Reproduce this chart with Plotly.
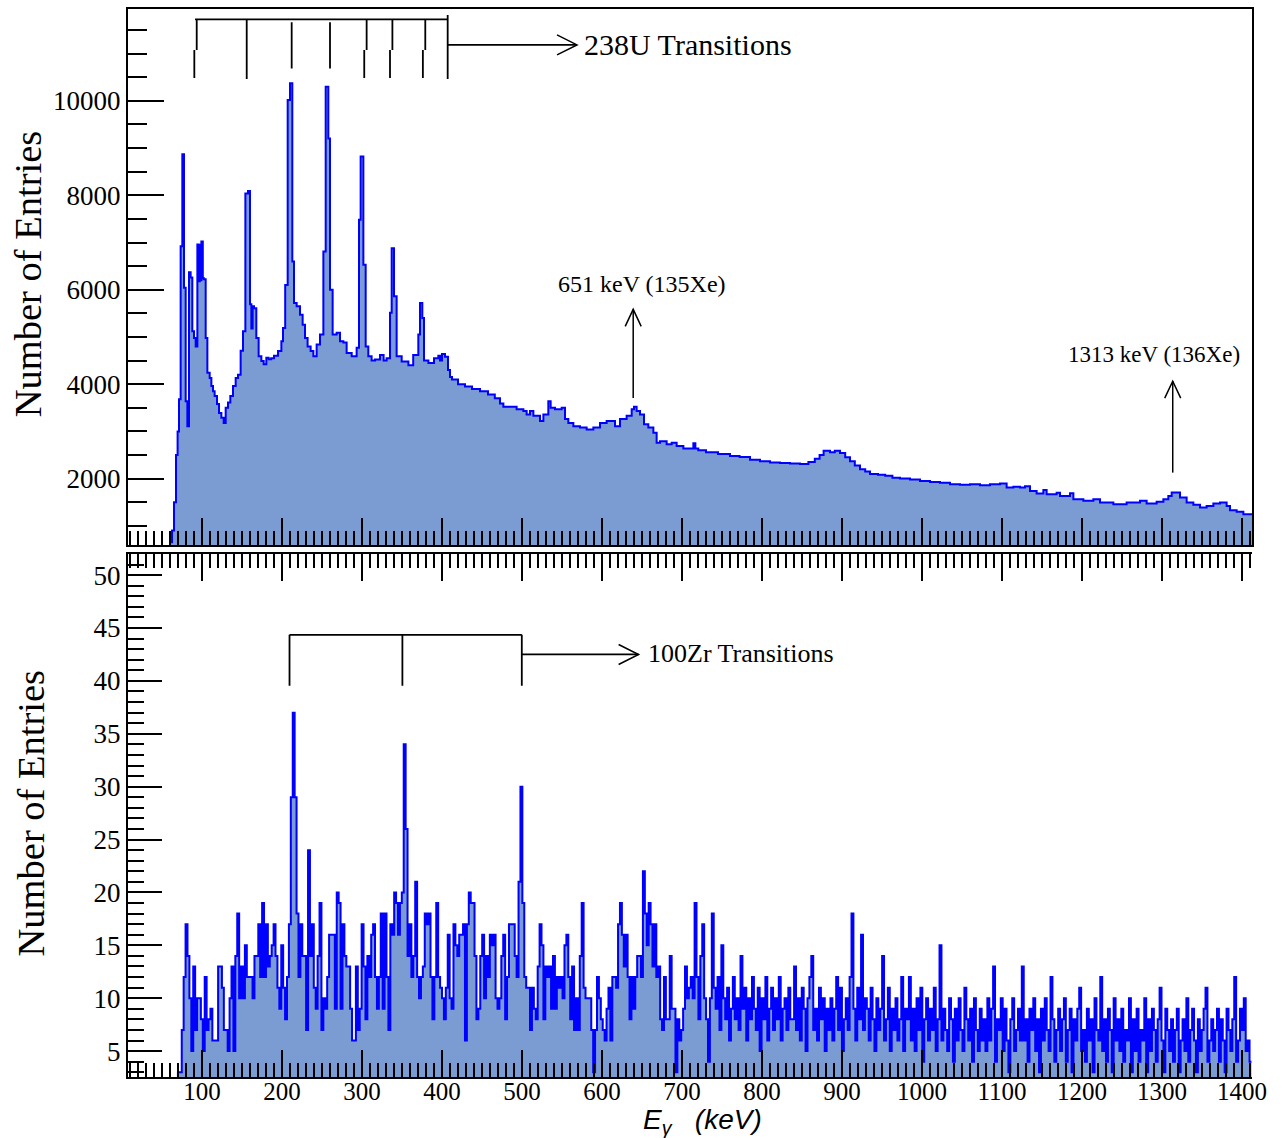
import plotly.graph_objects as go

# ---------------- top panel: gamma spectrum gated on 238U (variable-width bins) ----------------
top_edges_kev = [
    60.0, 62.5, 65.0, 67.5, 69.5, 71.25, 73.3, 75.4, 77.5, 79.6, 81.7, 83.75, 85.8, 87.9, 90.0, 92.1,
    94.2, 95.8, 97.1, 98.3, 99.2, 101.0, 102.1, 104.6, 106.7, 109.6, 111.7, 113.75, 115.8, 118.75,
    121.25, 124.2, 127.1, 129.6, 132.5, 135.4, 138.75, 142.1, 145.0, 148.3, 151.25, 154.2, 157.5,
    160.0, 161.7, 163.3, 165.0, 167.9, 170.8, 174.2, 177.1, 180.4, 183.3, 186.5, 190.0, 195.0, 199.2,
    201.25, 204.0, 207.1, 210.0, 212.9, 215.0, 218.3, 222.5, 225.8, 228.75, 232.0, 235.8, 239.2,
    243.3, 247.5, 251.7, 254.6, 257.9, 260.0, 263.3, 268.3, 272.5, 276.7, 280.8, 287.1, 293.3,
    296.25, 298.3, 301.7, 304.6, 307.9, 312.0, 316.25, 322.5, 327.0, 330.8, 335.0, 337.1, 340.0,
    343.3, 349.6, 358.0, 364.0, 370.4, 372.5, 375.4, 377.5, 383.0, 390.0, 395.4, 397.5, 400.0,
    403.75, 407.5, 410.0, 412.5, 420.0, 428.75, 437.5, 447.5, 457.5, 466.0, 472.5, 476.7, 493.3,
    501.7, 505.8, 510.0, 514.2, 522.5, 526.7, 532.9, 535.8, 541.25, 549.6, 553.75, 557.9, 564.2,
    572.5, 580.8, 589.2, 597.5, 605.8, 616.25, 622.5, 630.8, 637.1, 640.0, 643.3, 647.5, 652.5,
    657.9, 664.2, 668.3, 672.5, 680.8, 687.1, 693.3, 701.7, 714.2, 716.7, 720.4, 730.0, 745.0,
    760.0, 772.0, 785.0, 797.5, 810.0, 822.5, 835.0, 847.5, 858.0, 866.0, 872.0, 877.0, 885.0,
    891.0, 897.5, 904.0, 910.0, 916.0, 922.5, 929.0, 935.0, 945.0, 954.0, 963.0, 972.5, 985.0,
    997.5, 1010.0, 1022.5, 1035.0, 1047.5, 1060.0, 1072.5, 1085.0, 1097.5, 1105.8, 1114.2, 1122.5,
    1128.75, 1135.0, 1143.3, 1151.7, 1155.8, 1168.3, 1172.5, 1185.0, 1189.2, 1201.7, 1214.2,
    1222.5, 1239.2, 1255.8, 1272.5, 1280.8, 1293.3, 1301.7, 1307.9, 1312.1, 1318.3, 1322.5,
    1330.8, 1339.2, 1347.5, 1355.8, 1364.2, 1372.5, 1380.8, 1385.0, 1393.3, 1401.7,
]
top_counts = [
    650, 900, 1500, 2500, 3000, 3680, 6920, 8870, 6040, 3640, 3110, 6370, 6260, 5120, 4980, 4800,
    6960, 6180, 6950, 6200, 7020, 6250, 6220, 4980, 4240, 4130, 3960, 3850, 3750, 3580,
    3390, 3290, 3180, 3500, 3610, 3750, 3960, 4130, 4200, 4710, 5120, 8040, 8090,
    5690, 5180, 5650, 5610, 4980, 4590, 4490, 4420, 4560, 4530, 4550, 4600, 4700, 4910,
    5190, 6100, 10020, 10370, 6600, 5720, 5650, 5470, 5260, 4980, 4800, 4700, 4590,
    4840, 5050, 6810, 10300, 9200, 6000, 5050, 5090, 4910, 4880, 4660, 4590, 4770,
    7480, 8820, 6530, 4800, 4590, 4500, 4520, 4620, 4500, 4550, 5510, 6880, 5860,
    4590, 4480, 4400, 4620, 5050, 5720, 5400, 4500, 4450, 4550, 4600, 4500, 4640,
    4580, 4300, 4150, 4100, 4000, 3950, 3900, 3850, 3780, 3700, 3590, 3520, 3470,
    3430, 3360, 3430, 3330, 3220, 3360, 3640, 3500, 3470, 3500, 3260, 3180, 3110,
    3080, 3040, 3080, 3180, 3220, 3110, 3260, 3330, 3470, 3520, 3430, 3360, 3150,
    3080, 2970, 2760, 2790, 2730, 2760, 2690, 2640, 2750, 2640, 2600, 2560, 2520,
    2480, 2460, 2400, 2370, 2340, 2330, 2320, 2310, 2350, 2420, 2500, 2590, 2560,
    2590, 2540, 2450, 2370, 2280, 2200, 2150, 2100, 2080, 2060, 2020, 2000, 1980,
    1950, 1930, 1910, 1880, 1870, 1880, 1860, 1880, 1894, 1810, 1830, 1810,
    1840, 1740, 1683, 1760, 1670, 1700, 1634, 1690, 1564, 1529, 1564,
    1493, 1459, 1493, 1529, 1475, 1510, 1564, 1634, 1705, 1705, 1600,
    1493, 1444, 1388, 1420, 1475, 1493, 1420, 1332, 1300, 1247,
]
TOP_END_KEV = 1412.5

# ---------------- bottom panel: gamma spectrum gated on 100Zr (uniform bins) ----------------
ZR_FIRST_KEV = 69.9
ZR_BIN_KEV = 2.392
zr_counts = [
    3, 3, 7, 12, 17, 14, 10, 5, 13, 7, 10, 10, 8, 5, 12, 7, 8, 9, 6, 6,
    6, 13, 13, 11, 7, 7, 5, 10, 13, 5, 14, 18, 10, 13, 10, 15, 12, 12, 12, 10,
    14, 14, 17, 12, 19, 12, 17, 13, 14, 15, 17, 14, 11, 9, 15, 11, 8, 12, 17, 29,
    37, 29, 18, 12, 17, 14, 14, 7, 24, 14, 17, 11, 9, 14, 19, 7, 10, 9, 12, 16,
    16, 16, 9, 20, 19, 9, 17, 14, 13, 13, 9, 6, 6, 13, 7, 9, 17, 13, 8, 14,
    12, 16, 17, 12, 9, 12, 18, 9, 18, 12, 7, 17, 16, 20, 19, 16, 19, 20, 34, 26,
    14, 17, 12, 14, 21, 12, 10, 12, 13, 18, 17, 18, 12, 8, 12, 19, 12, 11, 10, 8,
    11, 16, 10, 9, 17, 15, 14, 16, 16, 17, 6, 17, 20, 19, 19, 14, 8, 9, 14, 16,
    10, 14, 12, 16, 15, 16, 10, 9, 10, 14, 16, 8, 12, 17, 17, 17, 14, 12, 21, 30,
    19, 12, 11, 11, 7, 11, 9, 8, 13, 17, 15, 8, 13, 12, 13, 9, 14, 9, 12, 11,
    12, 10, 15, 16, 12, 8, 13, 7, 10, 7, 14, 19, 11, 10, 10, 10, 7, 3, 7, 12,
    10, 8, 7, 6, 9, 11, 6, 12, 12, 11, 17, 19, 16, 13, 16, 12, 8, 12, 9, 12,
    14, 14, 12, 22, 18, 15, 19, 17, 13, 17, 12, 13, 8, 7, 12, 8, 8, 14, 9, 9,
    3, 8, 6, 7, 9, 13, 10, 11, 12, 10, 19, 12, 8, 14, 17, 10, 8, 4, 10, 18, 11,
    9, 12, 7, 15, 10, 8, 11, 6, 9, 12, 8, 10, 7, 14, 9, 11, 6, 10, 8, 12,
    9, 7, 11, 5, 10, 8, 12, 6, 9, 11, 7, 10, 8, 12, 6, 9, 10, 7, 11, 8,
    8, 13, 7, 10, 6, 11, 9, 5, 10, 12, 14, 7, 9, 6, 11, 8, 10, 5, 9, 7,
    10, 6, 9, 12, 7, 11, 5, 8, 10, 7, 12, 18, 9, 6, 11, 8, 16, 7, 10, 9,
    6, 11, 8, 5, 10, 7, 9, 14, 6, 8, 11, 5, 9, 7, 10, 6, 8, 12, 5, 9,
    8, 12, 6, 9, 5, 10, 7, 11, 4, 8, 10, 6, 9, 7, 11, 5, 8, 15, 6, 9,
    7, 5, 10, 8, 4, 9, 6, 10, 7, 5, 11, 8, 6, 9, 4, 10, 7, 5, 9, 6,
    8, 5, 10, 6, 9, 13, 4, 8, 7, 10, 5, 9, 6, 3, 8, 10, 5, 7, 9, 6,
    13, 6, 8, 4, 9, 7, 10, 5, 8, 3, 9, 6, 10, 7, 5, 12, 8, 4, 7, 9,
    5, 8, 10, 4, 7, 9, 3, 8, 6, 9, 11, 5, 7, 4, 9, 6, 8, 3, 10, 7,
    6, 12, 5, 8, 4, 9, 7, 3, 10, 6, 8, 5, 9, 4, 7, 6, 10, 3, 8, 5,
    9, 4, 7, 6, 10, 3, 8, 5, 9, 7, 4, 8, 11, 6, 3, 9, 7, 5, 8, 4,
    7, 9, 3, 6, 8, 5, 10, 4, 7, 9, 6, 3, 8, 5, 7, 9, 11, 4, 6, 8,
    5, 7, 9, 4, 8, 6, 3, 9, 7, 5, 8, 12, 4, 6, 9, 7, 10, 5, 6, 4,
]

# ---------------- annotation data ----------------
u238_lines_kev = [92.0, 155.9, 212.1, 260.0, 304.4, 336.6, 377.7, 407.1]
zr100_lines_kev = [209.4, 350.5, 499.75]

LINE_BLUE = "#0000ff"
FILL_BLUE = "#7b9bd3"
SERIF = "Liberation Serif"


def step_trace(edges, counts, end, xaxis, yaxis):
    xs = [edges[0]] + list(edges) + [end]
    ys = [0] + list(counts) + [counts[-1]]
    return go.Scatter(
        x=xs, y=ys, mode="lines", xaxis=xaxis, yaxis=yaxis,
        line=dict(color=LINE_BLUE, width=2, shape="hv"),
        fill="tozeroy", fillcolor=FILL_BLUE, hoverinfo="skip",
    )


zr_edges = [ZR_FIRST_KEV + i * ZR_BIN_KEV for i in range(len(zr_counts))]
zr_end = min(ZR_FIRST_KEV + len(zr_counts) * ZR_BIN_KEV, TOP_END_KEV)

fig = go.Figure()
fig.add_trace(step_trace(top_edges_kev, top_counts, TOP_END_KEV, "x2", "y2"))
fig.add_trace(step_trace(zr_edges, zr_counts, zr_end, "x", "y"))

x_tick_font = dict(family=SERIF, size=25, color="black")
y_tick_font = dict(family=SERIF, size=27, color="black")
common_x = dict(
    range=[7.5, 1412.5], tick0=0, dtick=100, ticks="inside", ticklen=27, tickwidth=2,
    tickcolor="black", showline=True, linecolor="black", linewidth=2,
    showgrid=False, zeroline=False,
    minor=dict(ticks="inside", dtick=10, tick0=0, ticklen=14, tickwidth=1.5, tickcolor="black"),
)
common_y = dict(
    ticks="inside", tickwidth=2, tickcolor="black", showline=True, linecolor="black",
    linewidth=2, showgrid=False, zeroline=False, tickformat="d", tickfont=y_tick_font,
)

fig.update_layout(
    width=1288, height=1138,
    margin=dict(l=128, r=36, t=7, b=61),
    paper_bgcolor="white", plot_bgcolor="white", showlegend=False,
    xaxis=dict(common_x, anchor="y", mirror="ticks", tickfont=x_tick_font, ticklabelstandoff=-9),
    yaxis=dict(common_y, domain=[0, 0.4895], anchor="x", range=[2.55, 51.98], tick0=0, dtick=5,
               mirror=False, ticklen=34,
               minor=dict(ticks="inside", dtick=1, ticklen=16, tickwidth=1.5, tickcolor="black")),
    xaxis2=dict(common_x, anchor="y2", mirror=True, showticklabels=False),
    yaxis2=dict(common_y, domain=[0.4979, 1], anchor="x2", range=[589, 11945], tick0=0,
                dtick=2000, mirror=True, ticklen=36,
                minor=dict(ticks="inside", dtick=500, ticklen=19, tickwidth=1.5, tickcolor="black")),
)

shapes = []
ann = []


def seg(x0, y0, x1, y1, xr, yr, w=1.8):
    shapes.append(dict(type="line", x0=x0, y0=y0, x1=x1, y1=y1, xref=xr, yref=yr,
                       line=dict(color="black", width=w)))


def head(x, y, xr, yr, path):
    shapes.append(dict(type="path", xref=xr, yref=yr, xsizemode="pixel", ysizemode="pixel",
                       xanchor=x, yanchor=y, path=path, line=dict(color="black", width=1.5)))


RIGHT = "M-20,10 L0,0 L-20,-10"
UP = "M-8,-17 L0,0 L8,-17"

# 238U band bracket (top panel)
u_top, u_mid, u_low = 11727, 11078, 10486
seg(u238_lines_kev[0] - 0.7, u_top, u238_lines_kev[-1], u_top, "x2", "y2")
for i, e in enumerate(u238_lines_kev):
    if i in (0, 4, 5, 6):
        seg(e + 1.4, u_top, e + 1.4, u_mid, "x2", "y2")
        seg(e - 1.6, u_mid, e - 1.6, u_low, "x2", "y2")
    elif i in (2, 3):
        seg(e, u_top - 60, e, 10683, "x2", "y2")
    else:
        seg(e, u_top + 90 if i == 7 else u_top, e, 10465, "x2", "y2")
seg(u238_lines_kev[-1], 11184, 568.75, 11184, "x2", "y2")
head(568.75, 11184, "x2", "y2", RIGHT)
ann.append(dict(x=575, y=11184, xref="x2", yref="y2", text="238U Transitions", showarrow=False,
                xanchor="left", yanchor="middle", font=dict(family=SERIF, size=30, color="black")))

# Xe lines (top panel)
seg(639, 3705, 639, 5585, "x2", "y2", 1.5)
head(639, 5585, "x2", "y2", UP)
ann.append(dict(x=650, y=6115, xref="x2", yref="y2", text="651 keV (135Xe)", showarrow=False,
                xanchor="center", yanchor="middle", font=dict(family=SERIF, size=24, color="black")))
seg(1313.4, 2127, 1313.4, 4064, "x2", "y2", 1.5)
head(1313.4, 4064, "x2", "y2", UP)
ann.append(dict(x=1289.6, y=4635, xref="x2", yref="y2", text="1313 keV (136Xe)", showarrow=False,
                xanchor="center", yanchor="middle", font=dict(family=SERIF, size=23, color="black")))

# 100Zr band bracket (bottom panel)
seg(zr100_lines_kev[0], 44.36, zr100_lines_kev[-1], 44.36, "x", "y")
for e in zr100_lines_kev:
    seg(e, 44.36, e, 39.55, "x", "y")
seg(zr100_lines_kev[-1], 42.5, 645.75, 42.5, "x", "y")
head(645.75, 42.5, "x", "y", RIGHT)
ann.append(dict(x=655, y=42.6, xref="x", yref="y", text="100Zr Transitions", showarrow=False,
                xanchor="left", yanchor="middle", font=dict(family=SERIF, size=26, color="black")))

# axis titles
for yc, xc in ((0.7525, -0.089), (0.2471, -0.086)):
    ann.append(dict(x=xc, y=yc, xref="paper", yref="paper", text="Number of Entries",
                    textangle=-90, showarrow=False, xanchor="center", yanchor="middle",
                    font=dict(family=SERIF, size=38.5, color="black")))
ann.append(dict(x=0.5107, y=-0.0416, xref="paper", yref="paper",
                text="<i>E<sub>γ</sub>   (keV)</i>", showarrow=False, xanchor="center",
                yanchor="middle", font=dict(family="Liberation Sans", size=28, color="black")))

fig.update_layout(shapes=shapes, annotations=ann)
fig.write_html("out.html")
